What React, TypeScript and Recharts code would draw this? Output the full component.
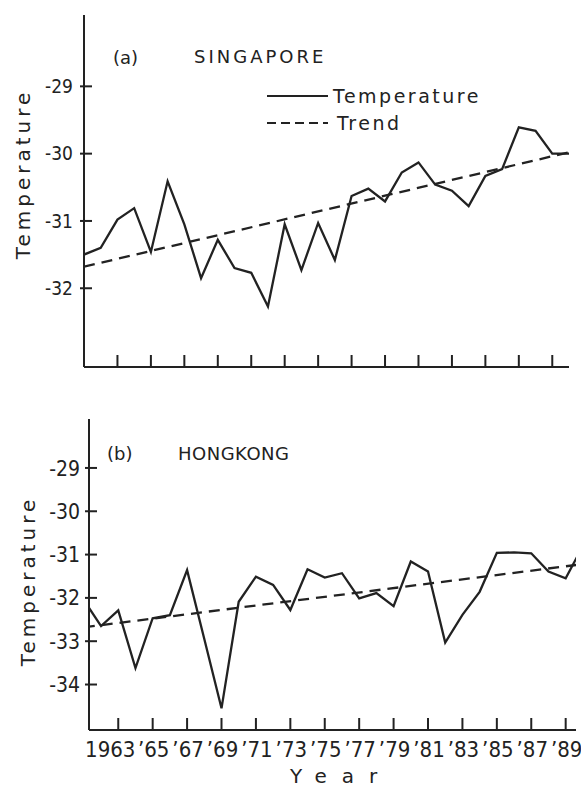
import { LineChart, Line, XAxis, YAxis, Legend } from "recharts";

const years = [
  1961, 1962, 1963, 1964, 1965, 1966, 1967, 1968, 1969, 1970,
  1971, 1972, 1973, 1974, 1975, 1976, 1977, 1978, 1979, 1980,
  1981, 1982, 1983, 1984, 1985, 1986, 1987, 1988, 1989, 1990,
];

const singaporeTemp = [
  -31.5, -31.4, -30.98, -30.81, -31.46, -30.41, -31.05, -31.85, -31.28, -31.7,
  -31.77, -32.27, -31.05, -31.73, -31.03, -31.58, -30.63, -30.52, -30.71, -30.28,
  -30.13, -30.46, -30.55, -30.78, -30.33, -30.23, -29.61, -29.66, -30.0, -30.0,
];

const hongkongTemp = [
  -32.05, -32.65, -32.29, -33.62, -32.47, -32.4, -31.36, -32.95, -34.55, -32.09,
  -31.51, -31.7, -32.28, -31.34, -31.53, -31.43, -32.01, -31.89, -32.19, -31.16,
  -31.39, -33.03, -32.39, -31.86, -30.96, -30.95, -30.97, -31.39, -31.55, -30.8,
];

// linear trend, end points only
const trendYears = [1961, 1990];
const singaporeTrend = [-31.68, -29.98];
const hongkongTrend = [-32.68, -31.22];

const tickYears = [1963, 1965, 1967, 1969, 1971, 1973, 1975, 1977, 1979, 1981, 1983, 1985, 1987, 1989];
const tickLabels = ["1963", "\u201965", "\u201967", "\u201969", "\u201971", "\u201973", "\u201975", "\u201977", "\u201979", "\u201981", "\u201983", "\u201985", "\u201987", "\u201989"];

const singaporeTicks = [-32, -31, -30, -29];
const hongkongTicks = [-34, -33, -32, -31, -30, -29];

const INK = "#222";
const FONT = "'DejaVu Sans', sans-serif";
const NARROW = "'Liberation Sans Narrow', 'DejaVu Sans Condensed', sans-serif";

const toRows = (vals: number[]) => years.map((year, i) => ({ year, temp: vals[i] }));
const toTrend = (vals: number[]) => trendYears.map((year, i) => ({ year, trend: vals[i] }));

function YTick(props: any) {
  const { x, y, payload, gap, fontSize } = props;
  return (
    <g>
      <line x1={x + gap - 4} x2={x + gap + 8} y1={y} y2={y} stroke={INK} strokeWidth={2} />
      <text x={x} y={y} dy="0.36em" textAnchor="end" fill={INK} fontSize={fontSize} fontFamily={NARROW}>
        {payload.value}
      </text>
    </g>
  );
}

function XTick(props: any) {
  const { x, y, payload, gap, showLabel } = props;
  const i = tickYears.indexOf(payload.value);
  // the first label is the full year and sits a little left of its tick
  const shift = i === 0 ? -8 : 1;
  return (
    <g>
      <line x1={x} x2={x} y1={y - gap} y2={y - gap - 12} stroke={INK} strokeWidth={2} />
      {showLabel && (
        <text x={x + shift} y={y} dy={17} textAnchor="middle" fill={INK} fontSize={22} fontFamily={NARROW}>
          {tickLabels[i]}
        </text>
      )}
    </g>
  );
}

function LegendBox(props: any) {
  const items = props.payload || [];
  return (
    <svg width={250} height={56}>
      {items.map((it: any, i: number) => {
        const cy = 16 + i * 27;
        const dashed = it.dataKey === "trend";
        return (
          <g key={i}>
            <line x1={5} x2={66} y1={cy} y2={cy} stroke={INK} strokeWidth={2.2} strokeDasharray={dashed ? "9 5" : undefined} />
            <text x={dashed ? 75 : 71} y={cy} dy="0.35em" fill={INK} fontSize={19} fontFamily={FONT} letterSpacing={2.5}>
              {it.value}
            </text>
          </g>
        );
      })}
    </svg>
  );
}

type PanelProps = {
  width: number;
  height: number;
  temps: number[];
  trend: number[];
  xDomain: [number, number];
  yDomain: [number, number];
  yTicks: number[];
  margin: { top: number; right: number; bottom: number; left: number };
  yAxisWidth: number;
  xAxisHeight: number;
  yFont: number;
  yGap: number;
  showYearLabels: boolean;
  showLegend: boolean;
};

function Panel(p: PanelProps) {
  return (
    <LineChart width={p.width} height={p.height} margin={p.margin}>
      <XAxis
        dataKey="year"
        type="number"
        domain={p.xDomain}
        allowDataOverflow
        ticks={tickYears}
        interval={0}
        height={p.xAxisHeight}
        tickSize={0}
        tickMargin={10}
        tickLine={false}
        axisLine={{ stroke: INK, strokeWidth: 2 }}
        tick={(t: any) => <XTick {...t} gap={10} showLabel={p.showYearLabels} />}
      />
      <XAxis xAxisId="frame" orientation="top" type="number" domain={p.xDomain} allowDataOverflow height={0} tick={false} tickLine={false} axisLine={{ stroke: INK, strokeWidth: 2 }} />
      <YAxis
        type="number"
        domain={p.yDomain}
        allowDataOverflow
        ticks={p.yTicks}
        interval={0}
        width={p.yAxisWidth}
        tickSize={0}
        tickMargin={p.yGap}
        tickLine={false}
        axisLine={{ stroke: INK, strokeWidth: 2 }}
        tick={(t: any) => <YTick {...t} gap={p.yGap} fontSize={p.yFont} />}
      />
      <YAxis yAxisId="frame" orientation="right" type="number" domain={p.yDomain} allowDataOverflow width={0} tick={false} tickLine={false} axisLine={{ stroke: INK, strokeWidth: 2 }} />
      {p.showLegend && (
        <Legend
          layout="vertical"
          align="center"
          verticalAlign="middle"
          content={<LegendBox />}
          wrapperStyle={{ left: 262, top: 80, width: 250 }}
        />
      )}
      <Line
        data={toRows(p.temps)}
        dataKey="temp"
        name="Temperature"
        stroke={INK}
        strokeWidth={2.3}
        dot={false}
        activeDot={false}
        isAnimationActive={false}
      />
      <Line
        data={toTrend(p.trend)}
        dataKey="trend"
        name="Trend"
        stroke={INK}
        strokeWidth={2.3}
        strokeDasharray="11 7"
        dot={false}
        activeDot={false}
        isAnimationActive={false}
      />
    </LineChart>
  );
}

const abs = (left: number, top: number, extra: any = {}) => ({
  position: "absolute" as const,
  left,
  top,
  color: INK,
  fontFamily: FONT,
  whiteSpace: "nowrap" as const,
  ...extra,
});

export default function App() {
  return (
    <div style={{ position: "absolute", left: 0, top: 0, width: 581, height: 788, background: "#fff", overflow: "hidden" }}>
      <div style={{ position: "absolute", left: 0, top: 0 }}>
        <Panel
          width={581}
          height={380}
          temps={singaporeTemp}
          trend={singaporeTrend}
          xDomain={[1961, 1990]}
          yDomain={[-33.17, -27.94]}
          yTicks={singaporeTicks}
          margin={{ top: 15, right: 12, bottom: 0, left: 0 }}
          yAxisWidth={84}
          xAxisHeight={13}
          yFont={19}
          yGap={11}
          showYearLabels={false}
          showLegend={true}
        />
      </div>
      <div style={{ position: "absolute", left: 0, top: 380 }}>
        <Panel
          width={581}
          height={408}
          temps={hongkongTemp}
          trend={hongkongTrend}
          xDomain={[1961.3, 1989.6]}
          yDomain={[-35.05, -27.87]}
          yTicks={hongkongTicks}
          margin={{ top: 39, right: 5, bottom: 0, left: 0 }}
          yAxisWidth={89}
          xAxisHeight={58}
          yFont={21}
          yGap={9}
          showYearLabels={true}
          showLegend={false}
        />
      </div>

      <div style={abs(113, 48, { fontSize: 18, lineHeight: "20px" })}>(a)</div>
      <div style={abs(194, 47, { fontSize: 18, lineHeight: "20px", letterSpacing: 3 })}>SINGAPORE</div>
      <div style={abs(107, 444, { fontSize: 18, lineHeight: "20px" })}>(b)</div>
      <div style={abs(178, 444, { fontSize: 18, lineHeight: "20px", letterSpacing: 0.5 })}>HONGKONG</div>

      <div style={abs(23, 174, { fontSize: 20, lineHeight: "20px", letterSpacing: 4, transform: "translate(-50%, -50%) rotate(-90deg)" })}>
        Temperature
      </div>
      <div style={abs(28, 581, { fontSize: 20, lineHeight: "20px", letterSpacing: 4, transform: "translate(-50%, -50%) rotate(-90deg)" })}>
        Temperature
      </div>
      <div style={abs(290, 766, { fontSize: 20, lineHeight: "20px", letterSpacing: 15 })}>Year</div>
    </div>
  );
}
